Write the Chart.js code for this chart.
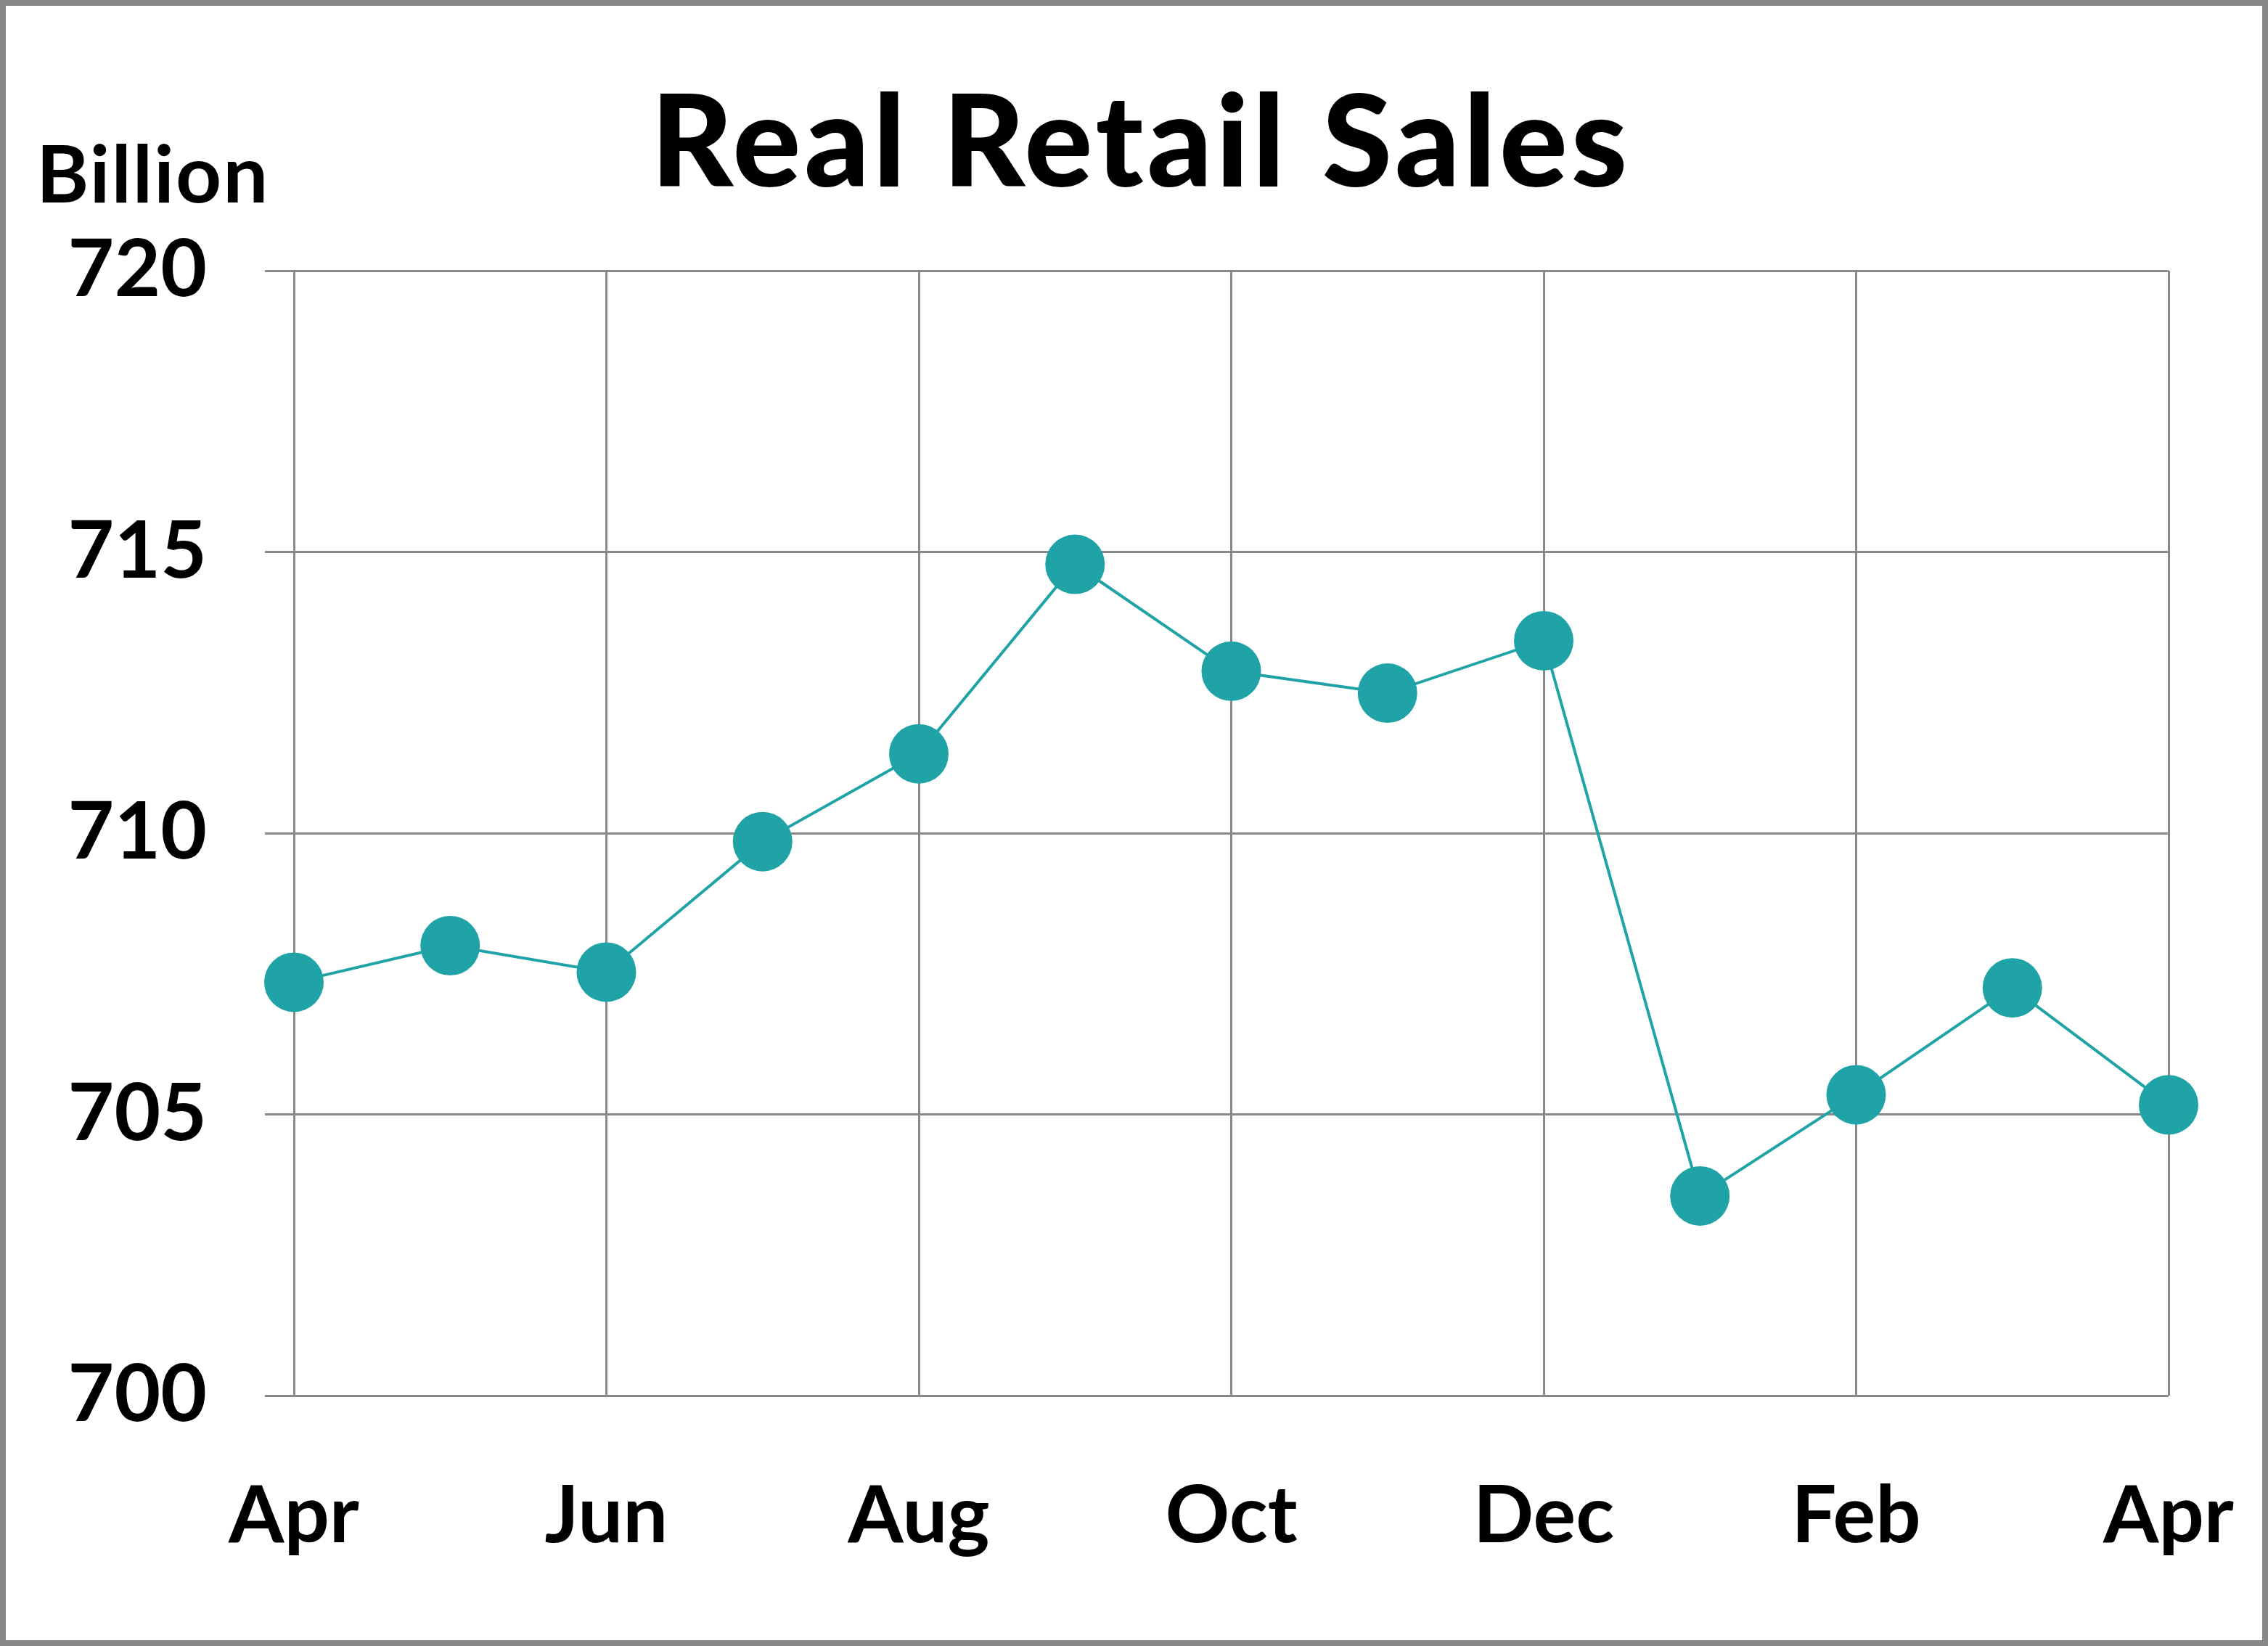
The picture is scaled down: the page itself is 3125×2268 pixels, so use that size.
<!DOCTYPE html>
<html><head><meta charset="utf-8">
<script src="https://cdn.jsdelivr.net/npm/chart.js@4.4.1/dist/chart.umd.min.js"></script>
<style>html,body{margin:0;padding:0;background:#fff}#wrap{width:3125px;height:2268px}</style>
</head><body><div id="wrap"><canvas id="c" width="3125" height="2268"></canvas></div>
<script>
const months = ["Apr","May","Jun","Jul","Aug","Sep","Oct","Nov","Dec","Jan","Feb","Mar","Apr"];
const sales = [707.35,708.0,707.53,709.85,711.41,714.78,712.88,712.49,713.42,703.55,705.35,707.25,705.17];
const yTicks = [700,705,710,715,720];
const titleText = "Real Retail Sales";
const unitText = "Billion";

const FONT = "Lato, 'Open Sans', sans-serif";
const lineColor = "#1FA3A7";
const gridColor = "#888888";

const decor = {
  id: 'decor',
  beforeDraw(chart) {
    const ctx = chart.ctx;
    ctx.save();
    ctx.fillStyle = '#fff';
    ctx.fillRect(0, 0, chart.width, chart.height);
    ctx.restore();
  },
  afterDraw(chart) {
    const ctx = chart.ctx;
    ctx.save();
    ctx.strokeStyle = gridColor;
    ctx.lineWidth = 8;
    ctx.strokeRect(4, 4, chart.width - 8, chart.height - 8);
    ctx.fillStyle = '#000';
    ctx.textBaseline = 'alphabetic';
    ctx.textAlign = 'left';
    ctx.font = "900 175px " + FONT;
    try { ctx.letterSpacing = '5px'; } catch (e) {}
    const w = ctx.measureText(titleText).width;
    ctx.fillText(titleText, 1572 - w / 2, 257);
    try { ctx.letterSpacing = '2px'; } catch (e) {}
    ctx.font = "bold 110px " + FONT;
    ctx.fillText(unitText, 50, 279);
    ctx.restore();
  }
};

new Chart(document.getElementById('c'), {
  type: 'line',
  data: {
    labels: months,
    datasets: [{
      data: sales,
      borderColor: lineColor,
      backgroundColor: lineColor,
      borderWidth: 4,
      pointRadius: 41,
      pointBackgroundColor: lineColor,
      pointBorderColor: lineColor,
      pointBorderWidth: 0,
      tension: 0,
      clip: false
    }]
  },
  options: {
    responsive: false,
    devicePixelRatio: 1,
    animation: false,
    layout: { padding: { left: 0, top: 373, right: 137, bottom: 0 } },
    plugins: { legend: { display: false }, title: { display: false }, tooltip: { enabled: false } },
    scales: {
      x: {
        type: 'category',
        offset: false,
        afterFit(scale) { scale.height = 2268 - 1923; scale.paddingLeft = 0; scale.paddingRight = 0; },
        border: { display: false },
        grid: {
          drawTicks: false,
          lineWidth: 3,
          color: (c) => (c.index % 2 === 0 ? gridColor : 'rgba(0,0,0,0)')
        },
        ticks: {
          autoSkip: false,
          maxRotation: 0,
          padding: 101,
          color: '#000',
          font: { family: FONT, size: 110, weight: 'bold' },
          callback: function (v, i) { return i % 2 === 0 ? months[i] : ''; }
        }
      },
      y: {
        min: yTicks[0],
        max: yTicks[yTicks.length - 1],
        afterFit(scale) { scale.width = 405; scale.paddingTop = 0; scale.paddingBottom = 0; },
        afterBuildTicks(scale) { scale.ticks = yTicks.map(v => ({ value: v })); },
        border: { display: false },
        grid: { color: gridColor, lineWidth: 3, drawTicks: true, tickLength: 40 },
        ticks: {
          padding: 80,
          color: '#000',
          font: { family: FONT, size: 110, weight: 'bold' }
        }
      }
    }
  },
  plugins: [decor]
});
</script>
</body></html>
